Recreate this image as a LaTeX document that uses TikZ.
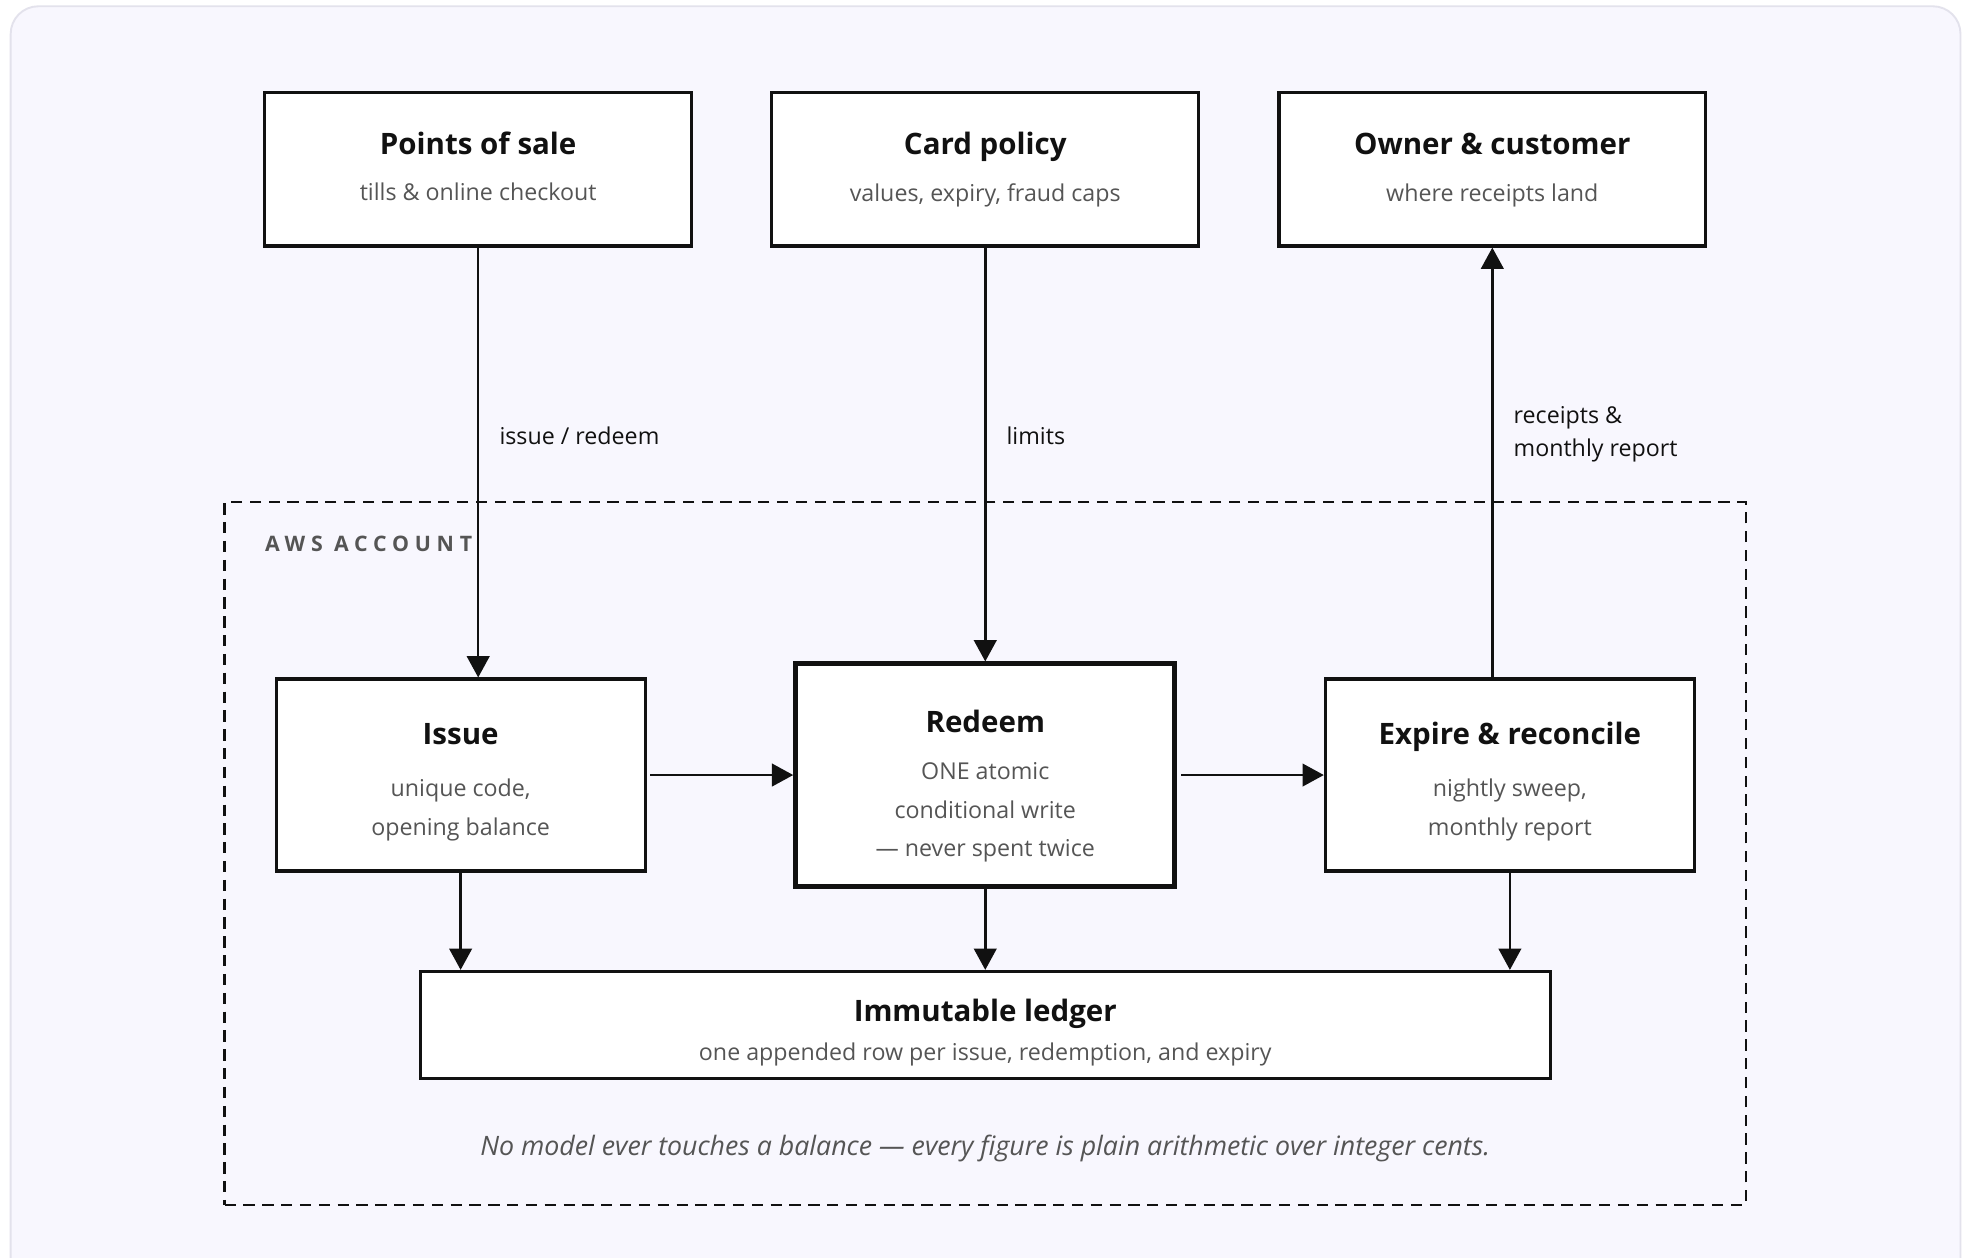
\documentclass[tikz,border=0pt]{standalone}
\usepackage{fontspec}
\setmainfont{Open Sans}
\usetikzlibrary{arrows.meta, positioning}
\definecolor{inkblack}{HTML}{111111}
\definecolor{subgray}{HTML}{555555}
\definecolor{pagefill}{HTML}{F8F7FE}
\definecolor{pageedge}{HTML}{E3E2EC}
\newcommand{\boxsubfont}{\fontsize{18.5}{31}\selectfont}
\newcommand{\boxhead}[2][0pt]{{\fontsize{23.5}{29}\selectfont\bfseries\color{inkblack}\rule{0pt}{\dimexpr 18pt+#1\relax}#2}}
\tikzset{
  sysbox/.style={draw=inkblack, line width=2.5pt, fill=white, align=center,
                 font=\boxsubfont, text=subgray, inner sep=0pt},
  corebox/.style={sysbox, line width=4pt},
  flowarrow/.style={-{Triangle[length=17pt, width=18pt]}, line width=2pt, inkblack},
  edgelabel/.style={font=\fontsize{18.5}{26}\selectfont, text=inkblack, align=left,
                    inner sep=0pt, right, xshift=16pt},
  accountbox/.style={draw=inkblack, line width=2pt, dash pattern=on 9pt off 6pt},
}

\begin{document}
\begin{tikzpicture}[x=1pt, y=-1pt]
  \useasboundingbox (0,0) rectangle (1568,1002);
  \fill[white] (0,0) rectangle (1568,1002);
  \path[fill=pagefill, draw=pageedge, line width=1.5pt, rounded corners=22pt] (8.5,5) rectangle (1562,1040);

  \node[accountbox, minimum width=1212pt, minimum height=560pt] (account) at (785,680) {};
  \node[anchor=west, inner sep=0pt, text=subgray,
        font=\fontsize{17}{20}\selectfont\bfseries\addfontfeature{LetterSpace=27}] (acctname) at (211,433) {AWS ACCOUNT};

  \node[sysbox, minimum width=340pt, minimum height=122pt] (sale) at (381,135)
    {\boxhead{Points of sale}\\[6pt] tills \& online checkout\rule[-5pt]{0pt}{0pt}};
  \node[sysbox, minimum width=340pt, minimum height=122pt] (policy) at (785,135)
    {\boxhead{Card policy}\\[6pt] values, expiry, fraud caps};
  \node[sysbox, minimum width=340pt, minimum height=122pt] (owner) at (1189,135)
    {\boxhead{Owner \& customer}\\[6pt] where receipts land};

  \node[sysbox, minimum width=294pt, minimum height=153pt] (issue) at (367,617.5)
    {\boxhead[10pt]{Issue}\\[10pt] unique code,\\ opening balance};
  \node[corebox, minimum width=302pt, minimum height=177pt] (redeem) at (785,617.5)
    {\boxhead[18pt]{Redeem}\\[6pt] ONE atomic\\ conditional write\\ — never spent twice};
  \node[sysbox, minimum width=294pt, minimum height=153pt] (expire) at (1203,617.5)
    {\boxhead[10pt]{Expire \& reconcile}\\[10pt] nightly sweep,\\ monthly report};

  \node[sysbox, minimum width=900pt, minimum height=85pt] (ledger) at (785,816.5)
    {\boxhead[12pt]{Immutable ledger}\\[0pt] one appended row per issue, redemption, and expiry};

  \node[font=\fontsize{21.3}{25}\selectfont\itshape, text=subgray, inner sep=0pt] (remark) at (785,915)
    {No model ever touches a balance — every figure is plain arithmetic over integer cents.};

  \draw[flowarrow] (sale.south) -- node[edgelabel, pos=0.437] {issue / redeem} (sale.south |- issue.north);
  \draw[flowarrow] (policy.south) -- node[edgelabel, pos=0.455] {limits} (redeem.north);
  \draw[flowarrow] (owner.south |- expire.north) -- node[edgelabel, pos=0.565] {receipts \&\\ monthly report} (owner.south);
  \draw[flowarrow, shorten <=3pt] (issue.east) -- (redeem.west);
  \draw[flowarrow, shorten <=3pt] (redeem.east) -- (expire.west);
  \draw[flowarrow] (issue.south) -- (issue.south |- ledger.north);
  \draw[flowarrow] (redeem.south) -- (ledger.north);
  \draw[flowarrow] (expire.south) -- (expire.south |- ledger.north);
\end{tikzpicture}
\end{document}
